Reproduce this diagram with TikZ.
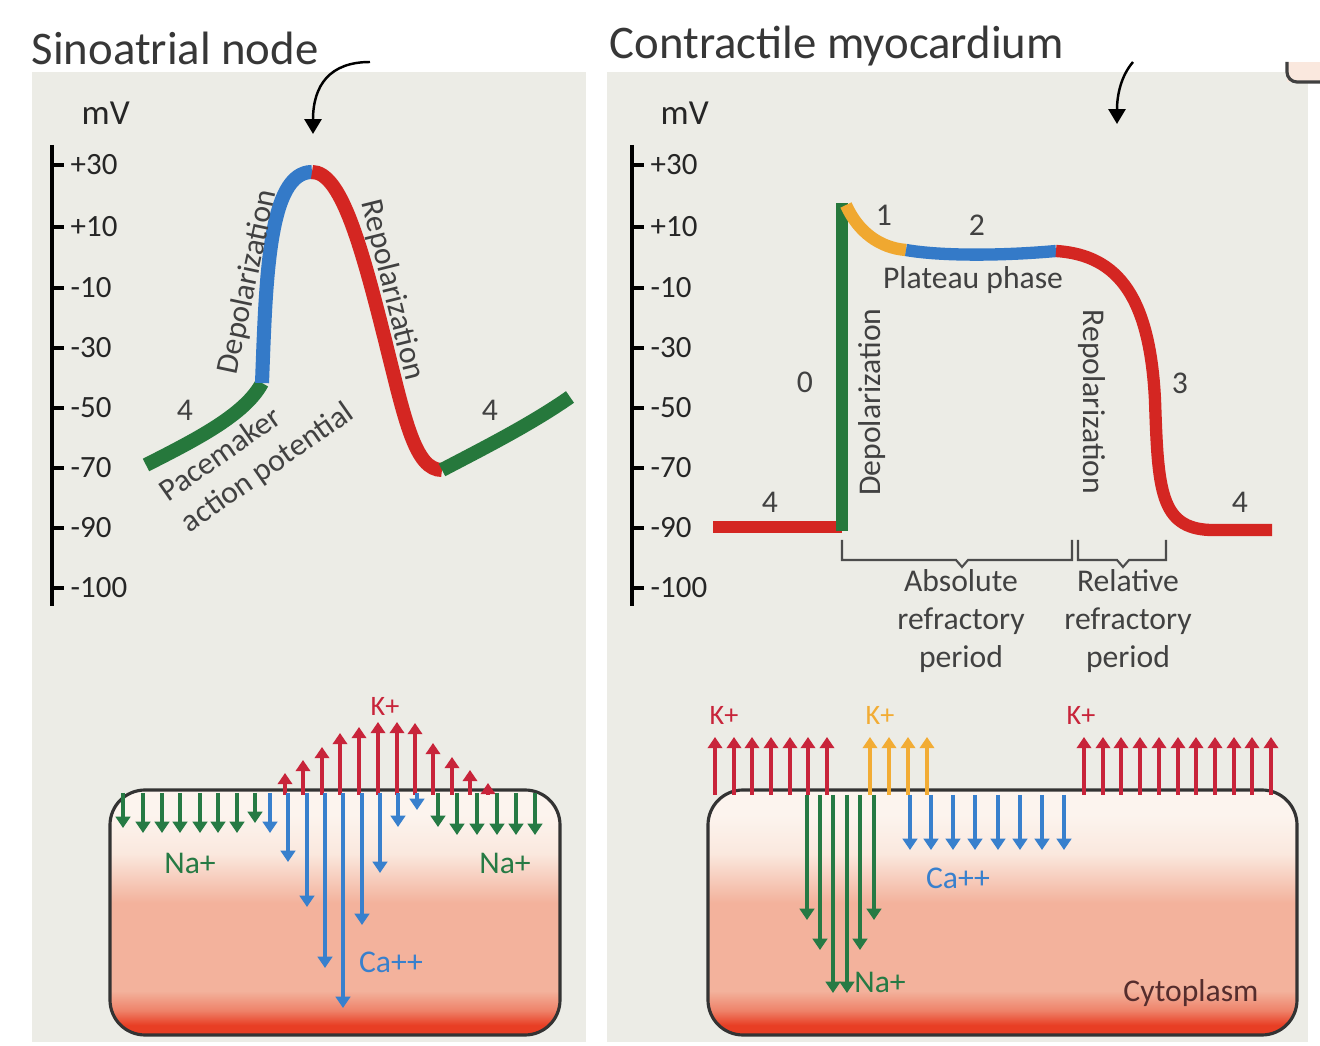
\documentclass[tikz,border=0pt]{standalone}
\usepackage{fontspec}
\setmainfont{Carlito}
\usetikzlibrary{arrows.meta}

\definecolor{panelgray}{RGB}{236,236,230}
\definecolor{headgray}{RGB}{55,55,55}
\definecolor{labelgray}{RGB}{65,65,65}
\definecolor{apgreen}{RGB}{38,120,60}
\definecolor{apblue}{RGB}{52,122,200}
\definecolor{apred}{RGB}{212,38,34}
\definecolor{aporange}{RGB}{240,168,48}
\definecolor{ionred}{RGB}{200,36,58}
\definecolor{iongreen}{RGB}{38,122,68}
\definecolor{ionblue}{RGB}{56,128,205}
\definecolor{ionorange}{RGB}{242,172,52}
\definecolor{cytobrown}{RGB}{85,45,45}
\definecolor{cellred}{RGB}{232,62,36}
\definecolor{cellmid}{RGB}{238,130,105}
\definecolor{cellsalmon}{RGB}{243,178,156}
\definecolor{celllight}{RGB}{250,232,222}
\definecolor{cellwhite}{RGB}{252,244,238}

\pgfdeclareverticalshading{cytoplasm}{100bp}{color(0bp)=(cellred); color(25bp)=(cellred); color(27bp)=(cellred); color(30bp)=(cellmid); color(34bp)=(cellsalmon); color(52bp)=(cellsalmon); color(62bp)=(celllight); color(70bp)=(cellwhite); color(100bp)=(cellwhite)}

\begin{document}
\begin{tikzpicture}
	[x=0.01cm, y=-0.01cm,
	panel/.style={fill=panelgray},
	heading/.style={inner sep=0pt, anchor=west, text=headgray, font=\fontsize{13.3}{16}\selectfont},
	axis/.style={black, line width=1.1pt},
	mvtick/.style={black, line width=0.9pt},
	mvlabel/.style={inner sep=0pt, anchor=west, text=black!85, font=\fontsize{8.8}{10}\selectfont},
	phase/.style={inner sep=0pt, text=labelgray, font=\fontsize{9}{10.7}\selectfont},
	trace/.style={line width=4pt},
	cardiotrace/.style={line width=3.5pt},
	bracket/.style={draw=black!70, line width=0.6pt},
	cellwall/.style={draw=black!80, line width=0.9pt, shading=cytoplasm, rounded corners=3.5mm},
	ionflow/.style={line width=1.35pt, -{Triangle[width=4.1pt,length=3.2pt]}},
	ionlabel/.style={inner sep=0pt, font=\fontsize{9}{10}\selectfont},
	klabel/.style={inner sep=0pt, font=\fontsize{8}{9}\selectfont},
	toparrow/.style={black, line width=0.7pt, -{Triangle[width=4.8pt,length=4.2pt]}}]

	\useasboundingbox (0,0) rectangle (1320,1046);

	% Draw panels and headings
	\fill[panel] (32,72) rectangle (586,1042);
	\fill[panel] (607,72) rectangle (1308,1042);
	\fill[celllight] (1287,62) rectangle (1320,82);
	\draw[black!75, line width=0.9pt, rounded corners=1mm] (1287,62) -- (1287,82) -- (1324,82);

	\node[heading] (satitle) at (31,48) {Sinoatrial node};
	\node[heading] (cmtitle) at (609,46) {Contractile myocardium};

	\coordinate (SAARROWSTART) at (370,62);
	\coordinate (SAARROWEND) at (313,134);
	\draw[toparrow] (SAARROWSTART) .. controls (330,62) and (313,85) .. (SAARROWEND);
	\coordinate (CMARROWSTART) at (1133,62);
	\coordinate (CMARROWEND) at (1117,124);
	\draw[toparrow] (CMARROWSTART) .. controls (1121,76) and (1117,95) .. (CMARROWEND);

	% Draw main axes
	\node[mvlabel, font=\fontsize{10}{12}\selectfont] (samv) at (81,113) {mV};
	\node[mvlabel, font=\fontsize{10}{12}\selectfont] (cmmv) at (660,113) {mV};
	\draw[axis] (52,145) -- (52,606);
	\draw[axis] (632,145) -- (632,606);
	\foreach \ty/\lab [count=\i] in {165/+30,227/+10,288/-10,348/-30,408/-50,468/-70,528/-90,588/-100}
	{
		\draw[mvtick] (52,\ty) -- (64,\ty);
		\node[mvlabel] (saTick\i) at (70,\ty) {\lab};
		\draw[mvtick] (632,\ty) -- (644,\ty);
		\node[mvlabel] (cmTick\i) at (650,\ty) {\lab};
	}

	% Sinoatrial trace
	\coordinate (SA1) at (146,465);
	\coordinate (SA2) at (262,383);
	\coordinate (SAPEAK) at (312,172);
	\coordinate (SA3) at (385,340);
	\coordinate (SAMIN) at (442,470);
	\coordinate (SA4) at (570,397);
	\draw[trace, apgreen] (SA1) .. controls (195,440) and (245,415) .. (SA2);
	\draw[trace, apblue] (SA2) .. controls (266,280) and (268,172) .. (SAPEAK);
	\draw[trace, apred] (SAPEAK) .. controls (340,172) and (360,240) .. (SA3) .. controls (405,420) and (415,470) .. (SAMIN);
	\draw[trace, apgreen] (SAMIN) .. controls (480,450) and (530,425) .. (SA4);

	\node[phase, rotate=78] (sadep) at (248,282) {Depolarization};
	\node[phase, rotate=-76] (sarep) at (392,290) {Repolarization};
	\node[phase, rotate=35, align=left] (sapace) at (257,453) {Pacemaker\\action potential};
	\node[phase] (saFourA) at (185,410) {4};
	\node[phase] (saFourB) at (490,410) {4};

	% Contractile trace
	\coordinate (CM0) at (713,527);
	\coordinate (CMUP) at (842,527);
	\coordinate (CMBASE) at (842,531);
	\coordinate (CMTOP) at (842,203);
	\coordinate (CMTOPR) at (846,205);
	\coordinate (CM1) at (906,250);
	\coordinate (CM2) at (1056,251);
	\coordinate (CM3) at (1155,400);
	\coordinate (CM4) at (1272,530);
	\draw[cardiotrace, apred] (CM0) -- (CMUP);
	\draw[cardiotrace, apgreen] (CMBASE) -- (CMTOP);
	\draw[cardiotrace, aporange] (CMTOPR) .. controls (858,232) and (880,248) .. (CM1);
	\draw[cardiotrace, apblue] (CM1) .. controls (940,256) and (1000,256) .. (CM2);
	\draw[cardiotrace, apred] (CM2) .. controls (1120,255) and (1150,300) .. (CM3) .. controls (1158,490) and (1160,528) .. (1210,530) -- (CM4);

	\node[phase] (cmZero) at (805,382) {0};
	\node[phase] (cmOne) at (884,215) {1};
	\node[phase] (cmTwo) at (977,225) {2};
	\node[phase] (cmThree) at (1180,383) {3};
	\node[phase] (cmFourA) at (770,502) {4};
	\node[phase] (cmFourB) at (1240,502) {4};
	\node[phase] (plateau) at (973,280) {Plateau phase};
	\node[phase, rotate=90] (cmdep) at (872,402) {Depolarization};
	\node[phase, rotate=-90] (cmrep) at (1092,402) {Repolarization};

	% Refractory brackets
	\draw[bracket] (842,540) -- (842,560) -- (956,560) -- (962,567) -- (968,560) -- (1072,560) -- (1072,540);
	\draw[bracket] (1078,540) -- (1078,560) -- (1117,560) -- (1123,567) -- (1129,560) -- (1166,560) -- (1166,540);
	\node[phase, align=center] (absref) at (961,621) {Absolute\\refractory\\period};
	\node[phase, align=center] (relref) at (1128,621) {Relative\\refractory\\period};

	% Sinoatrial cell
	\draw[cellwall] (110,790) rectangle (560,1035);
	\foreach \ix/\iy in {285/773,303/760,322/747,340/733,359/727,378/722,397/722,415/723,433/743,452/757,470/770,488/783}
		\draw[ionflow, ionred] (\ix,795) -- (\ix,\iy);
	\foreach \ix/\iy in {123/828,143/833,162/833,180/833,200/833,218/833,237/833,255/823,438/827,457/835,477/835,497/835,516/835,535/835}
		\draw[ionflow, iongreen] (\ix,793) -- (\ix,\iy);
	\foreach \ix/\iy in {270/833,288/862,307/907,325/968,343/1008,362/925,380/873,398/827,417/810}
		\draw[ionflow, ionblue] (\ix,793) -- (\ix,\iy);
	\node[klabel, text=ionred] (saK) at (385,706) {K+};
	\node[ionlabel, text=iongreen] (saNaA) at (190,863) {Na+};
	\node[ionlabel, text=iongreen] (saNaB) at (505,863) {Na+};
	\node[ionlabel, text=ionblue] (saCa) at (391,962) {Ca++};

	% Contractile cell
	\draw[cellwall] (708,790) rectangle (1297,1035);
	\foreach \ix in {715,734,752,771,790,808,827,1084,1103,1121,1140,1159,1178,1196,1215,1234,1252,1271}
		\draw[ionflow, ionred] (\ix,795) -- (\ix,737);
	\foreach \ix in {870,889,908,927}
		\draw[ionflow, ionorange] (\ix,795) -- (\ix,737);
	\foreach \ix/\iy in {807/920,820/950,833/993,847/993,860/950,874/920}
		\draw[ionflow, iongreen] (\ix,795) -- (\ix,\iy);
	\foreach \ix in {910,931,953,975,998,1020,1042,1064}
		\draw[ionflow, ionblue] (\ix,795) -- (\ix,850);
	\node[klabel, text=ionred] (cmKA) at (724,715) {K+};
	\node[klabel, text=ionorange] (cmKB) at (880,715) {K+};
	\node[klabel, text=ionred] (cmKC) at (1081,715) {K+};
	\node[ionlabel, text=ionblue] (cmCa) at (958,878) {Ca++};
	\node[ionlabel, text=iongreen] (cmNa) at (880,982) {Na+};
	\node[ionlabel, text=cytobrown] (cytoplasm) at (1191,993) {Cytoplasm};

\end{tikzpicture}
\end{document}
